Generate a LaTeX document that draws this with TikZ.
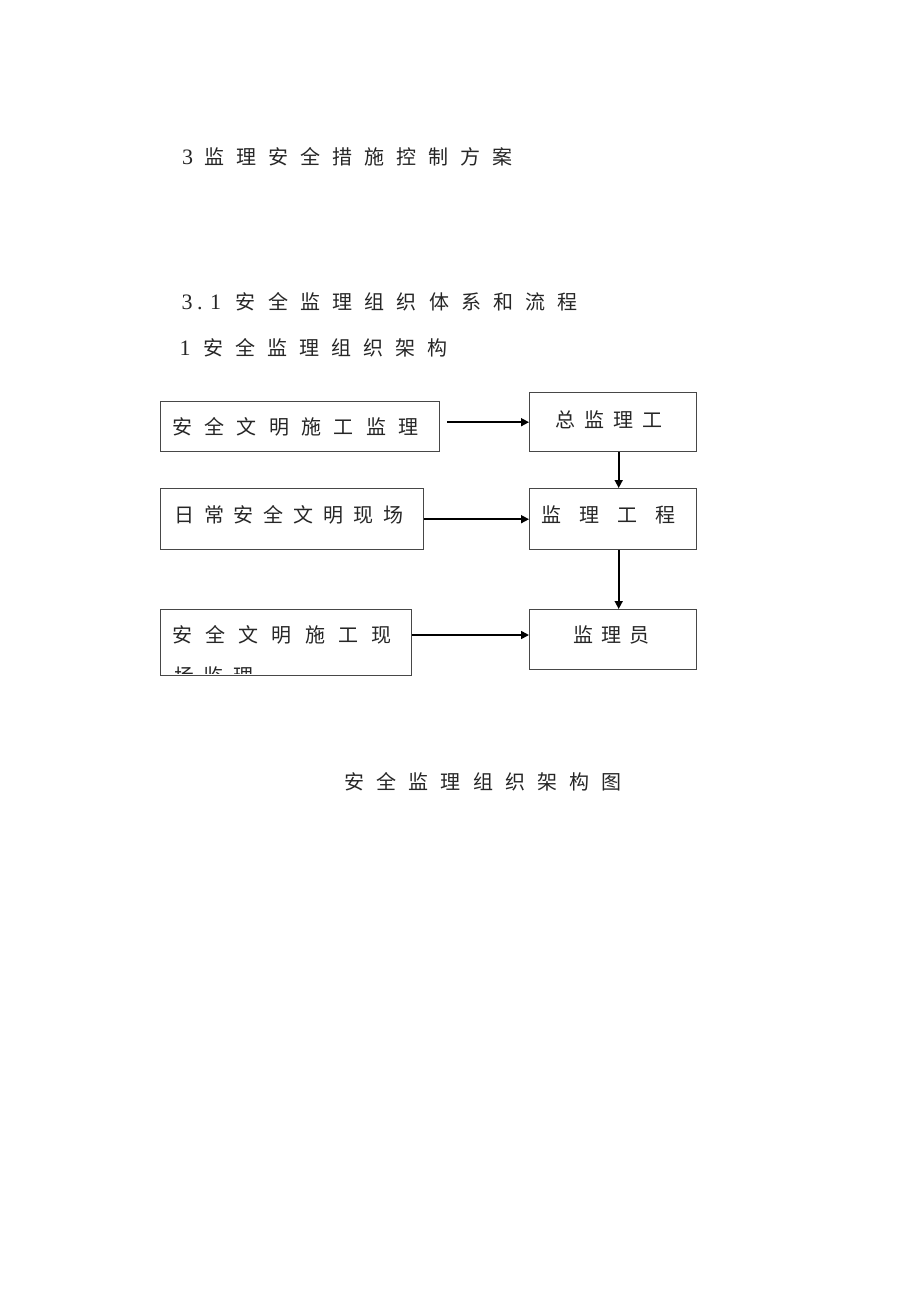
\documentclass[tikz,border=0pt]{standalone}
\usepackage{fontspec}
\usetikzlibrary{arrows.meta}
\newfontfamily\cjk{Noto Sans CJK SC}
\newfontfamily\dig{Liberation Serif}
\ExplSyntaxOn
\NewDocumentCommand\spc{mm}{\tl_map_inline:nn{#2}{\makebox[#1][l]{##1}}}
\ExplSyntaxOff
\begin{document}
\begin{tikzpicture}[x=1pt,y=-1pt,
  box/.style={draw=black!72,line width=1.4pt,inner sep=0pt,anchor=north west},
  txt/.style={inner sep=0pt,anchor=base west,font=\fontsize{20pt}{24pt}\selectfont\cjk,text=black!85},
  num/.style={inner sep=0pt,anchor=base west,font=\fontsize{22pt}{26pt}\selectfont\dig,text=black!85},
  arr/.style={line width=1.6pt,draw=black,-{Triangle[length=8pt,width=8pt]}}]
\useasboundingbox (0,0) rectangle (920,1302);
% headings
\node[num] (h1n) at (182,164.3) {3};
\node[txt] (h1) at (204,164.3) {\spc{32pt}{监理安全措施控制方案}};
\node[num] (h2a) at (181.5,309.3) {3};
\node[num] (h2b) at (197,309.3) {.};
\node[num] (h2c) at (210,309.3) {1};
\node[txt] (h2) at (235.7,309.3) {\spc{32.2pt}{安全监理组织体系和流程}};
\node[num] (h3n) at (179.5,355.6) {1};
\node[txt] (h3) at (203.5,355.6) {\spc{32pt}{安全监理组织架构}};
% boxes
\node[box,minimum width=279pt,minimum height=50pt] (A) at (160,401) {};
\node[box,minimum width=167pt,minimum height=59pt] (B) at (529,392) {};
\node[box,minimum width=263pt,minimum height=61pt] (C) at (160,488) {};
\node[box,minimum width=167pt,minimum height=61pt] (D) at (529,488) {};
\node[box,minimum width=251pt,minimum height=66pt] (E) at (160,609) {};
\node[box,minimum width=167pt,minimum height=60pt] (F) at (529,609) {};
% box texts
\node[txt] (tA) at (172,434.3) {\spc{32.3pt}{安全文明施工监理}};
\node[txt] (tB) at (555.4,427) {\spc{28.8pt}{总监理工}};
\node[txt] (tC) at (174,522.6) {\spc{29.9pt}{日常安全文明现场}};
\node[txt] (tD) at (541,522.6) {\spc{38pt}{监理工程}};
\node[txt] (tE) at (172,642.6) {\spc{33.2pt}{安全文明施工现}};
\begin{scope}
\clip (161,610) rectangle (410,673.5);
\node[txt] (tE2) at (174,683.6) {\spc{29.5pt}{场监理}};
\end{scope}
\node[txt] (tF) at (573.3,642.6) {\spc{28pt}{监理员}};
% connectors
\coordinate (a1) at ([xshift=7pt]A.east);
\draw[arr] (a1 |- B.west) -- (B.west);
\draw[arr] (C.east) -- (C.east -| D.west);
\coordinate (e1) at ([yshift=-26pt]E.north east);
\draw[arr] (e1) -- (e1 -| F.west);
\draw[arr] ([xshift=5.5pt]B.south) -- ([xshift=5.5pt]D.north);
\draw[arr] ([xshift=5.5pt]D.south) -- ([xshift=5.5pt]F.north);
% caption
\node[txt] (cap) at (344,789.6) {\spc{32.2pt}{安全监理组织架构图}};
\end{tikzpicture}
\end{document}
